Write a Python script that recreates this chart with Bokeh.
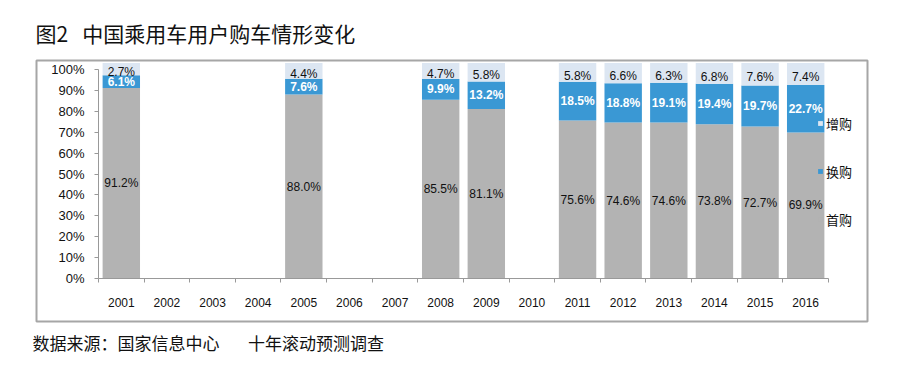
from bokeh.plotting import figure
from bokeh.models import (ColumnDataSource, Range1d, FixedTicker, Title,
                          Legend, LegendItem, LabelSet, NumeralTickFormatter)
from bokeh.core.properties import value
from bokeh.embed import file_html
from bokeh.resources import INLINE

# ---- data ----
all_years = ["2001", "2002", "2003", "2004", "2005", "2006", "2007", "2008",
             "2009", "2010", "2011", "2012", "2013", "2014", "2015", "2016"]
data_years = ["2001", "2005", "2008", "2009", "2011", "2012", "2013", "2014", "2015", "2016"]
first_buy = [91.2, 88.0, 85.5, 81.1, 75.6, 74.6, 74.6, 73.8, 72.7, 69.9]     # 首购
replace_buy = [6.1, 7.6, 9.9, 13.2, 18.5, 18.8, 19.1, 19.4, 19.7, 22.7]     # 换购
add_buy = [2.7, 4.4, 4.7, 5.8, 5.8, 6.6, 6.3, 6.8, 7.6, 7.4]                # 增购
y_ticks = [0, 10, 20, 30, 40, 50, 60, 70, 80, 90, 100]

title_text = "图2\u00a0\u00a0\u00a0中国乘用车用户购车情形变化"
source_text = "数据来源：国家信息中心\u3000\u00a0\u00a0\u00a0十年滚动预测调查"

GRAY = "#B3B3B3"
BLUE = "#3A98D4"
LIGHT = "#DCE6F2"
Y_TOP = 1.031

xs = [all_years.index(y) + 1 for y in data_years]
f = [v / 100 for v in first_buy]
r = [v / 100 for v in replace_buy]
fr = [fi + ri for fi, ri in zip(f, r)]

src = ColumnDataSource(dict(
    x=xs, f=f, fr=fr, top=[Y_TOP] * len(xs),
    f_mid=[fi / 2 for fi in f],
    r_mid=[fi + ri / 2 for fi, ri in zip(f, r)],
    a_mid=[(v + 1.0) / 2 for v in fr],
    f_lab=["%.1f%%" % v for v in first_buy],
    r_lab=["%.1f%%" % v for v in replace_buy],
    a_lab=["%.1f%%" % v for v in add_buy],
))

p = figure(width=900, height=364, output_backend="svg", toolbar_location=None,
           x_range=Range1d(-0.8589, 17.3548), y_range=Range1d(-0.2057, 1.0431),
           min_border_left=36, min_border_right=33, min_border_top=60, min_border_bottom=43)
p.outline_line_color = "#A6A6A6"
p.outline_line_width = 2
p.xgrid.visible = False
p.ygrid.visible = False
p.background_fill_color = "white"
p.border_fill_color = "white"

W = 0.82
rf = p.vbar(x="x", bottom=0, top="f", width=W, source=src, fill_color=GRAY, line_color=None)
rr = p.vbar(x="x", bottom="f", top="fr", width=W, source=src, fill_color=BLUE, line_color=None)
ra = p.vbar(x="x", bottom="fr", top="top", width=W, source=src, fill_color=LIGHT, line_color=None)

FONT = value("Liberation Sans")
p.add_layout(LabelSet(x="x", y="f_mid", text="f_lab", source=src, text_align="center",
                      text_baseline="middle", text_font=FONT, text_font_size="12px",
                      text_color="#111111"))
p.add_layout(LabelSet(x="x", y="r_mid", text="r_lab", source=src, text_align="center",
                      text_baseline="middle", text_font=FONT, text_font_size="12px",
                      text_font_style="bold", text_color="white"))
p.add_layout(LabelSet(x="x", y="a_mid", text="a_lab", source=src, text_align="center",
                      text_baseline="middle", text_font=FONT, text_font_size="12px",
                      text_color="#111111"))

# axes placed inside the framed box
AX = "#999999"
p.yaxis.fixed_location = 0.5
p.yaxis.ticker = FixedTicker(ticks=[t / 100 for t in y_ticks])
p.yaxis.formatter = NumeralTickFormatter(format="0%")
p.yaxis.bounds = (0, 1)
p.yaxis.axis_line_color = AX
p.yaxis.major_tick_line_color = AX
p.yaxis.major_tick_out = 4
p.yaxis.major_tick_in = 0
p.yaxis.minor_tick_line_color = None
p.yaxis.major_label_standoff = 10
p.yaxis.major_label_text_font = "Liberation Sans"
p.yaxis.major_label_text_font_size = "13px"
p.yaxis.major_label_text_color = "#111111"

p.xaxis.fixed_location = 0
p.xaxis.ticker = FixedTicker(ticks=list(range(1, 17)), minor_ticks=[i + 0.5 for i in range(0, 17)])
p.xaxis.major_label_overrides = {i + 1: y for i, y in enumerate(all_years)}
p.xaxis.bounds = (0.5, 16.5)
p.xaxis.axis_line_color = AX
p.xaxis.major_tick_line_color = None
p.xaxis.major_tick_out = 0
p.xaxis.major_tick_in = 0
p.xaxis.minor_tick_line_color = AX
p.xaxis.minor_tick_out = 4
p.xaxis.minor_tick_in = 0
p.xaxis.major_label_standoff = 15
p.xaxis.major_label_text_font = "Liberation Sans"
p.xaxis.major_label_text_font_size = "12px"
p.xaxis.major_label_text_color = "#111111"

# legend
legend = Legend(items=[LegendItem(label="增购", renderers=[ra]),
                       LegendItem(label="换购", renderers=[rr]),
                       LegendItem(label="首购", renderers=[rf])],
                location=(781, 92), orientation="vertical",
                glyph_width=6, glyph_height=6, label_height=20, label_standoff=3,
                spacing=28, padding=0, margin=0,
                label_text_font="Noto Sans CJK SC", label_text_font_size="13px",
                label_text_color="#111111",
                background_fill_alpha=0, border_line_color=None)
p.add_layout(legend, "center")

# title and source
p.title.text = title_text
p.title.align = "left"
p.title.vertical_align = "top"
p.title.offset = -1
p.title.standoff = 22
p.title.text_font = "Noto Sans CJK SC"
p.title.text_font_size = "21px"
p.title.text_font_style = "normal"
p.title.text_color = "#111111"

p.add_layout(Title(text=source_text, align="left", offset=-4, standoff=12,
                   text_font="Noto Sans CJK SC", text_font_size="17px",
                   text_font_style="normal", text_color="#111111"), "below")

open("out.html", "w").write(file_html(p, INLINE))
